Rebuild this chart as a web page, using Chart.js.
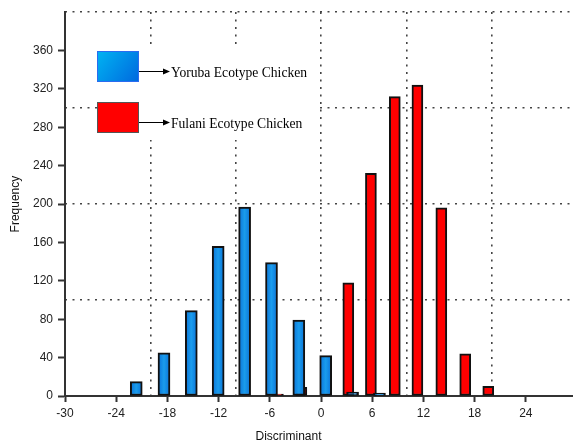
<!DOCTYPE html>
<html>
<head>
<meta charset="utf-8">
<script src="https://cdn.jsdelivr.net/npm/chart.js@4"></script>
<style>
html,body{margin:0;padding:0;background:#fff;overflow:hidden;}
#wrap{width:580px;height:447px;}
</style>
</head>
<body>
<div id="wrap"><canvas id="c" width="580" height="447"></canvas></div>
<script>
// ---- data ----
const xTickLabels = [-30, -24, -18, -12, -6, 0, 6, 12, 18, 24];
const yTickLabels = [0, 40, 80, 120, 160, 200, 240, 280, 320, 360];
const seriesNames = ["Yoruba Ecotype Chicken", "Fulani Ecotype Chicken"];
const yorubaX = [-21.65, -18.4, -15.2, -12.05, -8.95, -5.8, -2.6, 0.55, 3.7, 6.85];
const yorubaY = [15, 45, 89, 156, 197, 139, 79, 42, 4, 3];
const fulaniX = [-5.05, -2.3, 3.2, 5.85, 8.65, 11.3, 14.1, 16.9, 19.6];
const fulaniY = [2, 9, 118, 232, 312, 324, 196, 44, 10];
const xTitle = "Discriminant";
const yTitle = "Frequency";

const toPts = (xs, ys) => xs.map((x, i) => ({x: x, y: ys[i]}));

function blueFill(c) {
  const fallback = '#0f86e2';
  if (c.type !== 'data' || !c.raw || !c.chart.scales || !c.chart.scales.x) return fallback;
  const px = c.chart.scales.x.getPixelForValue(c.raw.x);
  if (!isFinite(px)) return fallback;
  const g = c.chart.ctx.createLinearGradient(px - 6, 0, px + 6, 0);
  g.addColorStop(0, '#0a72d8');
  g.addColorStop(0.5, '#1a9cec');
  g.addColorStop(1, '#0a72d8');
  return g;
}

const legendPlugin = {
  id: 'customLegend',
  afterDraw(chart) {
    const ctx = chart.ctx;
    ctx.save();
    ctx.fillStyle = '#ffffff';
    ctx.fillRect(97, 45, 218, 95);
    const items = [
      {y: 51, name: seriesNames[0], blue: true},
      {y: 102, name: seriesNames[1], blue: false}
    ];
    items.forEach(it => {
      const bx = 97, bw = 42, bh = 31;
      if (it.blue) {
        const g = ctx.createLinearGradient(bx, it.y, bx + bw, it.y + bh);
        g.addColorStop(0, '#00b4f2');
        g.addColorStop(1, '#0068de');
        ctx.fillStyle = g;
        ctx.strokeStyle = '#2a6cf0';
      } else {
        ctx.fillStyle = '#ff0000';
        ctx.strokeStyle = '#555555';
      }
      ctx.fillRect(bx, it.y, bw, bh);
      ctx.lineWidth = 1;
      ctx.strokeRect(bx + 0.5, it.y + 0.5, bw - 1, bh - 1);
      const ay = it.y + 20.5;
      ctx.strokeStyle = '#000';
      ctx.beginPath();
      ctx.moveTo(bx + bw, ay);
      ctx.lineTo(164, ay);
      ctx.stroke();
      ctx.fillStyle = '#000';
      ctx.beginPath();
      ctx.moveTo(170, ay);
      ctx.lineTo(163, ay - 3);
      ctx.lineTo(163, ay + 3);
      ctx.closePath();
      ctx.fill();
      ctx.font = '13.6px "Liberation Serif", "Times New Roman", serif';
      ctx.textBaseline = 'middle';
      ctx.textAlign = 'left';
      ctx.fillText(it.name, 171, ay + 1.5);
    });
    ctx.restore();
  }
};

const tickFont = {family: '"Liberation Sans", Arial, sans-serif', size: 12};

new Chart(document.getElementById('c'), {
  type: 'bar',
  data: {
    datasets: [
      {
        label: seriesNames[0],
        data: toPts(yorubaX, yorubaY),
        backgroundColor: blueFill,
        borderColor: '#111111',
        borderWidth: 2,
        borderSkipped: false,
        barThickness: 12,
        grouped: false
      },
      {
        label: seriesNames[1],
        data: toPts(fulaniX, fulaniY),
        backgroundColor: '#ff0000',
        borderColor: '#111111',
        borderWidth: 2,
        borderSkipped: false,
        barThickness: 11,
        grouped: false
      }
    ]
  },
  options: {
    responsive: false,
    animation: false,
    devicePixelRatio: 1,
    layout: {padding: {left: 0, top: 9, right: 3, bottom: 0}},
    plugins: {
      legend: {display: false},
      tooltip: {enabled: false},
      title: {
        display: true,
        position: 'bottom',
        text: xTitle,
        color: '#111',
        font: {family: '"Liberation Sans", Arial, sans-serif', size: 12, weight: 'normal'},
        padding: {top: 0, bottom: 3}
      }
    },
    scales: {
      x: {
        type: 'linear',
        position: 'bottom',
        offset: false,
        min: -30, max: 30,
        afterBuildTicks: s => { s.ticks = xTickLabels.map(v => ({value: v})); },
        afterFit: s => { s.height = 33.6; },
        ticks: {color: '#222', font: tickFont, padding: 4, maxRotation: 0, autoSkip: false},
        grid: {offset: false, drawOnChartArea: false, drawTicks: true, tickLength: 6, tickWidth: 2, tickColor: '#333'},
        border: {display: true, color: '#333', width: 2}
      },
      y: {
        type: 'linear',
        position: 'left',
        min: 0, max: 400,
        afterBuildTicks: s => { s.ticks = yTickLabels.map(v => ({value: v})); },
        afterFit: s => { s.width = 65; },
        ticks: {color: '#222', font: tickFont, padding: 5},
        title: {display: true, text: yTitle, color: '#111', font: tickFont, padding: {top: 8, bottom: 0}},
        grid: {drawOnChartArea: false, drawTicks: true, tickLength: 7, tickWidth: 2, tickColor: '#333'},
        border: {display: true, color: '#333', width: 2}
      },
      x2: {
        type: 'linear',
        position: 'top',
        offset: false,
        min: -30, max: 30,
        afterFit: s => { s.height = 0; },
        ticks: {display: false, stepSize: 10},
        grid: {offset: false, drawTicks: false, color: '#444', lineWidth: 1.6},
        border: {display: false, dash: [2, 5.5]}
      },
      y2: {
        type: 'linear',
        position: 'right',
        min: 0, max: 400,
        afterFit: s => { s.width = 0; },
        ticks: {display: false, stepSize: 100},
        grid: {drawTicks: false, color: '#444', lineWidth: 1.6},
        border: {display: false, dash: [2, 5.5]}
      }
    }
  },
  plugins: [legendPlugin]
});
</script>
</body>
</html>
